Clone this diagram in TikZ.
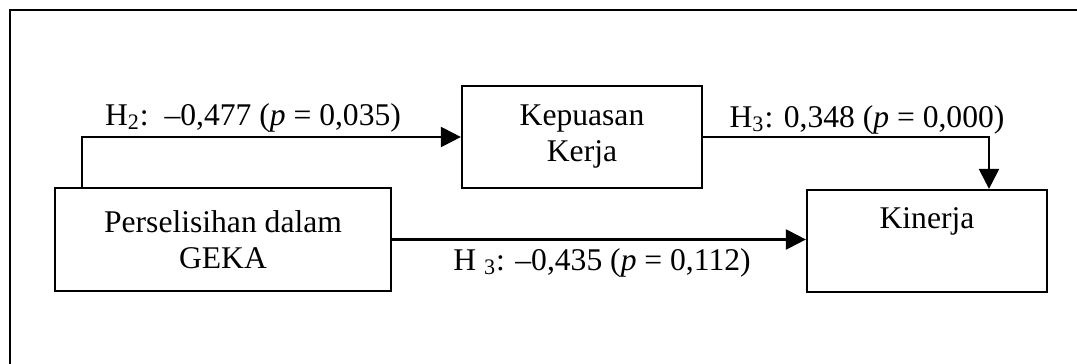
\documentclass[tikz,border=0pt]{standalone}
\usepackage{fontspec}
\setmainfont{Liberation Serif}
\usetikzlibrary{arrows.meta,positioning}

\begin{document}
\begin{tikzpicture}[x=0.5pt, y=-0.5pt,
            var box/.style={rectangle, draw, line width=1.1pt, align=center, inner sep=0pt, font=\fontsize{15.8}{18}\selectfont},
            path label/.style={inner sep=0pt, anchor=base, font=\fontsize{15.8}{18}\selectfont},
            link/.style={line width=1.1pt, -{Triangle[length=10pt, width=10pt]}}
    ]
        \useasboundingbox (0,0) rectangle (1077,364);

        % Frame
        \draw[line width=1.3pt] (10,364) -- (10,10) -- (1077,10);

        % Variables
        \node[var box, minimum width=168pt, minimum height=51.5pt] (var_geka) at (223,239.5) {Perselisihan dalam\\GEKA};
        \node[var box, minimum width=120pt, minimum height=51pt] (var_kep) at (582,137) {Kepuasan\\Kerja};
        \node[var box, minimum width=120pt, minimum height=51pt] (var_kin) at (927,241) {Kinerja\\\strut};

        % Bends
        \coordinate (bend_h2) at (82,137);
        \coordinate (bend_h3) at (989,137);

        % Arrows
        \draw[link] (var_geka.north -| bend_h2) -- (bend_h2) -- (var_kep.west);
        \draw[link] (var_kep.east) -- (bend_h3) -- (var_kin.north -| bend_h3);
        \draw[link] (var_geka.east) -- (var_geka.east -| var_kin.west);

        % Labels
        \node[path label] (lbl_h2) at (253,125) {H\textsubscript{2}:\ \ –0,477 (\textit{p} = 0,035)};
        \node[path label] (lbl_h3a) at (867,127) {H\textsubscript{3}: 0,348 (\textit{p} = 0,000)};
        \node[path label] (lbl_h3b) at (602,270) {H \textsubscript{3}: –0,435 (\textit{p} = 0,112)};

    \end{tikzpicture}
\end{document}
